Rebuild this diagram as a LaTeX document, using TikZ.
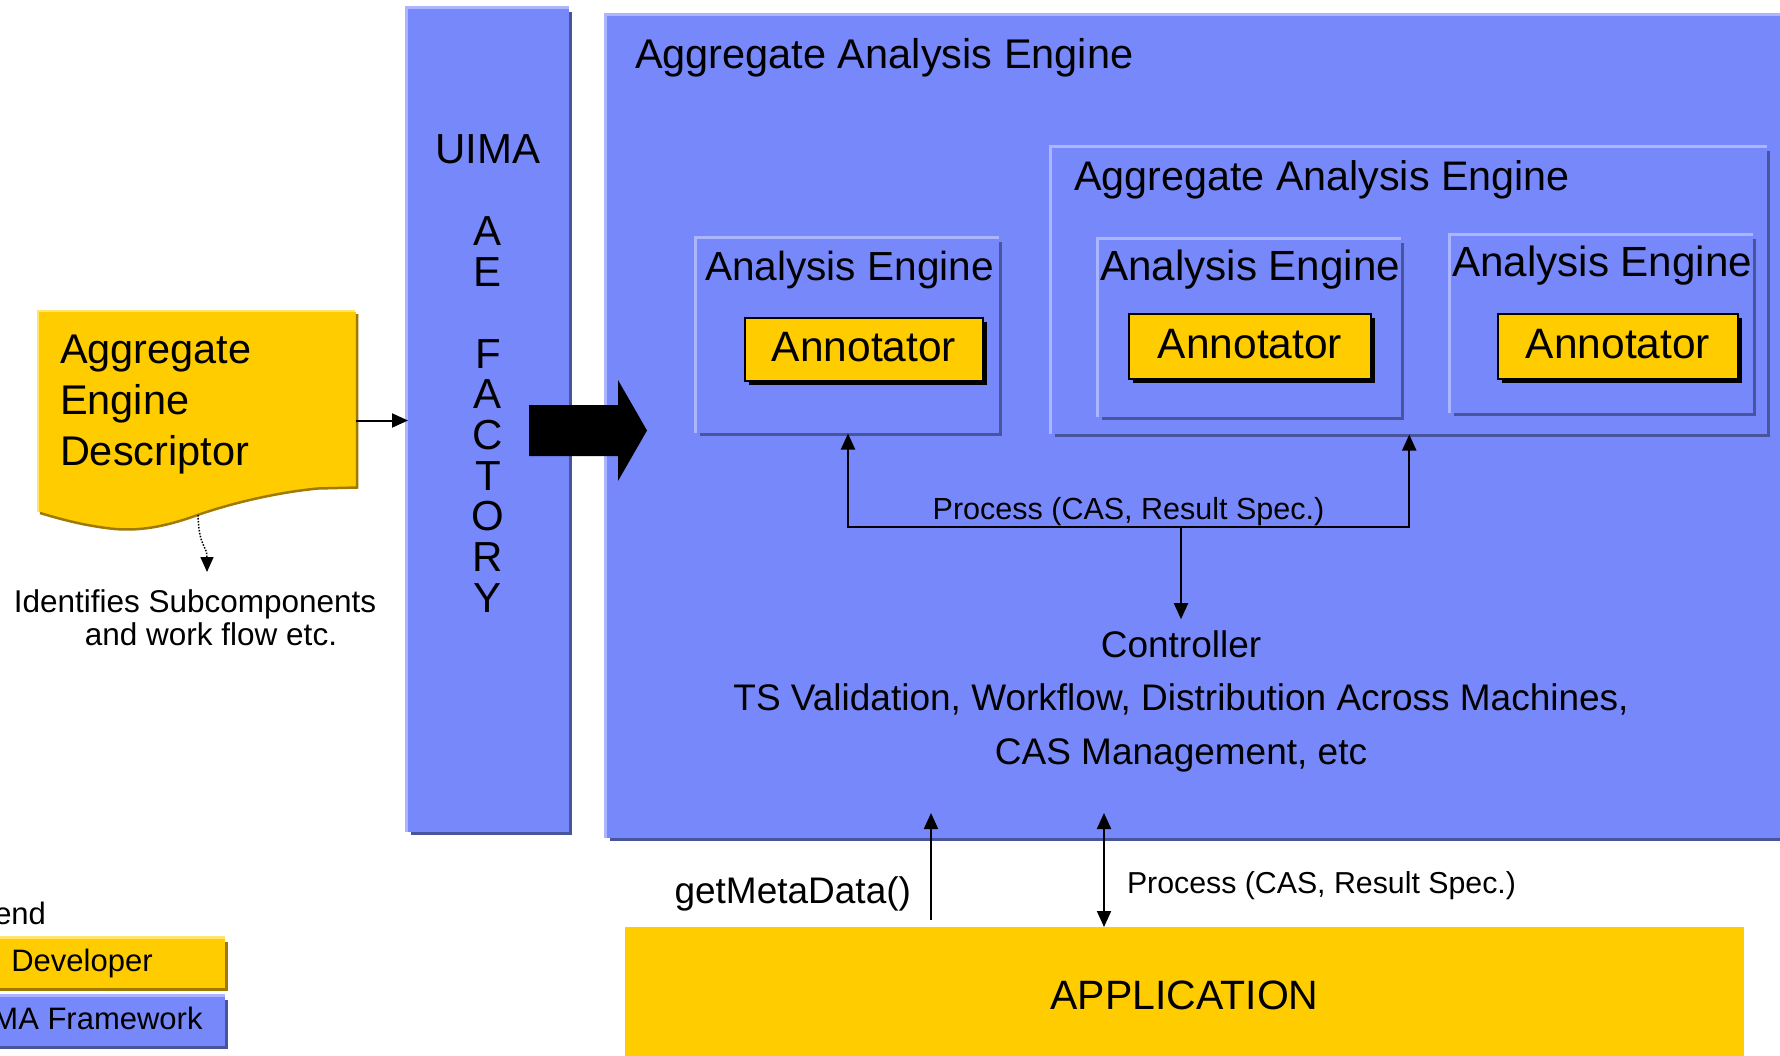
\documentclass[tikz,border=0pt]{standalone}
\usepackage{fontspec}
\setmainfont{Liberation Sans}
\usetikzlibrary{arrows.meta,shadows}

\definecolor{fwblue}{RGB}{119,136,250}
\definecolor{fwlight}{RGB}{172,182,255}
\definecolor{fwdark}{RGB}{72,84,158}
\definecolor{devgold}{RGB}{255,204,0}
\definecolor{devlight}{RGB}{255,228,110}
\definecolor{devdark}{RGB}{160,122,0}

% font size in pixels (1pt = 1px here)
\newcommand\fsz[1]{\fontsize{#1pt}{#1pt}\selectfont}

% bevelled rim: light top/left edge, dark bottom/right edge
\newcommand\panelrim[3]{%
  \draw[line width=3pt,#2] ([xshift=-1.5pt]#1.south west) -- ([xshift=-1.5pt,yshift=1.5pt]#1.north west) -- ([yshift=1.5pt]#1.north east);
  \draw[line width=3pt,#3] ([xshift=3pt,yshift=-1.5pt]#1.south west) -- ([xshift=1.5pt,yshift=-1.5pt]#1.south east) -- ([xshift=1.5pt,yshift=-3pt]#1.north east);}

\begin{document}
\begin{tikzpicture}[x=1pt,y=-1pt,
  panel/.style={rectangle, inner sep=0pt, outer sep=0pt, anchor=north west},
  txt/.style={inner sep=0pt, outer sep=0pt, text=black},
  annot/.style={rectangle, inner sep=0pt, outer sep=0pt, fill=devgold, draw=black, line width=2pt,
    text depth=5pt, font=\fsz{42.5},
    drop shadow={shadow xshift=4pt, shadow yshift=-4pt, opacity=1, fill=black}},
  legendbox/.style={rectangle, inner sep=0pt, outer sep=0pt, minimum width=286pt, minimum height=49pt,
    text height=23pt, text depth=7pt, font=\fsz{31}},
  tip/.tip={Triangle[length=16pt,width=14pt]},
  arr/.style={line width=2pt, -tip},
  darr/.style={line width=2pt, tip-tip},
]
\useasboundingbox (0,0) rectangle (1780,1055);
\clip (0,0) rectangle (1780,1055);
\fill[white] (0,0) rectangle (1780,1055);

% ---------- framework panels ----------
\node[panel, fill=fwblue, minimum width=161pt, minimum height=823pt] (factory) at (408,9) {};
\panelrim{factory}{fwlight}{fwdark}
\node[panel, fill=fwblue, minimum width=1200pt, minimum height=822pt] (agg1) at (607,16) {};
\panelrim{agg1}{fwlight}{fwdark}

% nested engines (outlined only)
\node[panel, minimum width=714.5pt, minimum height=286pt] (agg2) at (1052,147.5) {};
\panelrim{agg2}{fwlight}{fwdark}
\node[panel, minimum width=302pt, minimum height=194pt] (ae1) at (697,238.5) {};
\panelrim{ae1}{fwlight}{fwdark}
\node[panel, minimum width=302pt, minimum height=177pt] (ae2) at (1099,239.5) {};
\panelrim{ae2}{fwlight}{fwdark}
\node[panel, minimum width=302pt, minimum height=177pt] (ae3) at (1451,235.5) {};
\panelrim{ae3}{fwlight}{fwdark}

% annotators
\node[annot, minimum width=238pt, minimum height=63pt] (an1) at (864,349.5) {Annotator};
\node[annot, minimum width=242pt, minimum height=65pt] (an2) at (1250,346.5) {Annotator};
\node[annot, minimum width=240pt, minimum height=65pt] (an3) at (1618,346.5) {Annotator};

% ---------- titles ----------
\node[txt, anchor=base west, font=\fsz{41.5}] (t1) at (635,68) {Aggregate Analysis Engine};
\node[txt, anchor=base west, font=\fsz{41.3}] (t2) at (1074,190) {Aggregate Analysis Engine};
\node[txt, anchor=base west, font=\fsz{40.6}] (t3) at (705,280) {Analysis Engine};
\node[txt, anchor=base west, font=\fsz{42.2}] (t4) at (1100,280) {Analysis Engine};
\node[txt, anchor=base west, font=\fsz{42.2}] (t5) at (1452,276) {Analysis Engine};

% ---------- factory lettering ----------
\node[txt, anchor=base, font=\fsz{42}] (uima) at (488,163) {UIMA};
\foreach \ch/\yb [count=\i] in {A/245.9, E/286.6, F/368, A/408.7, C/449.4, T/490.1, O/530.8, R/571.5, Y/612.2}
  \node[txt, anchor=base, font=\fsz{42}] (fac\i) at (488,\yb) {\ch};

% big transfer arrow
\fill[black] (529,405) -- (618,405) -- (618,380) -- (647,430.5) -- (618,481) -- (618,456) -- (529,456) -- cycle;

% ---------- descriptor document ----------
\node[panel, fill=devgold, minimum width=317pt, minimum height=175pt] (desc) at (39,312) {};
\fill[devgold] (39,486) -- (356,486) -- (356,487) -- (318,488)
  .. controls (285,491) and (240,500) .. (199,514)
  .. controls (165,526) and (140,530) .. (115,528)
  .. controls (85,525) and (60,518) .. (39,512) -- cycle;
\draw[devlight, line width=2.5pt] (38,512) -- (38,311) -- (355,311);
\draw[devdark, line width=2.5pt] (357.2,314) -- (357.2,487.5) -- (318,488.5)
  .. controls (285,491.5) and (240,500.5) .. (199,514.5)
  .. controls (165,527) and (140,531) .. (115,529)
  .. controls (85,526) and (60,519) .. (40,513);
\node[txt, anchor=base west, font=\fsz{41.5}] (d1) at (60,363) {Aggregate};
\node[txt, anchor=base west, font=\fsz{41.5}] (d2) at (60,414) {Engine};
\node[txt, anchor=base west, font=\fsz{41.5}] (d3) at (60,465) {Descriptor};

\draw[arr] (desc.east |- factory.west) -- (factory.west);

\coordinate (descfoot) at (198,515);
\coordinate (notetip) at (207,572);
\draw[line width=1.5pt, dash pattern=on 1.5pt off 1.5pt, -{Triangle[length=15pt,width=13pt]}]
  (descfoot) .. controls (199,548) and (207,545) .. (notetip);
\node[txt, anchor=base, font=\fsz{31.5}] (note1) at (195,612) {Identifies Subcomponents};
\node[txt, anchor=base, font=\fsz{31.5}] (note2) at (211,645) {and work flow etc.};

% ---------- controller and process bus ----------
\node[txt, anchor=base, font=\fsz{37}] (ctrl1) at (1181,657) {Controller};
\node[txt, anchor=base, font=\fsz{37}] (ctrl2) at (1181,710) {TS Validation, Workflow, Distribution Across Machines,};
\node[txt, anchor=base, font=\fsz{37}] (ctrl3) at (1181,764) {CAS Management, etc};

\coordinate (bus) at (1181,527);
\draw[arr] (bus) -| ([yshift=-1pt]ae1.south);
\draw[arr] (bus) -| ([yshift=-1pt]agg2.south);
\draw[arr] (bus) -- ([yshift=11pt]ctrl1.north);
\node[txt, anchor=base, font=\fsz{30.5}] (buslbl) at (1128.5,519) {Process (CAS, Result Spec.)};

% ---------- application ----------
\node[panel, fill=devgold, minimum width=1119pt, minimum height=136pt, font=\fsz{41}] (app) at (625,927) {APPLICATION};

\coordinate (gmtop) at (931,813);
\coordinate (prtop) at (1104,813);
\draw[arr, shorten <=7pt] (gmtop |- app.north) -- (gmtop);
\draw[darr] (prtop |- app.north) -- (prtop);
\node[txt, anchor=base east, font=\fsz{37}] (gmlbl) at (911,903) {getMetaData()};
\node[txt, anchor=base west, font=\fsz{30.3}] (prlbl) at (1127,893) {Process (CAS, Result Spec.)};

% ---------- legend ----------
\node[txt, anchor=base east, font=\fsz{31}] (legend) at (46,924) {Legend};
\node[legendbox, fill=devgold] (lgdev) at (82,963.5) {Developer};
\panelrim{lgdev}{devlight}{devdark}
\node[legendbox, fill=fwblue] (lgfw) at (82,1021) {UIMA Framework};
\panelrim{lgfw}{fwlight}{fwdark}
\end{tikzpicture}
\end{document}
